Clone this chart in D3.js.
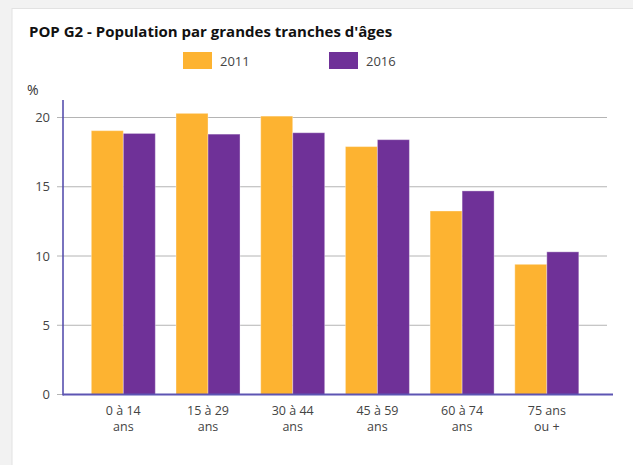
<!DOCTYPE html>
<html>
<head>
<meta charset="utf-8">
<script src="https://cdn.jsdelivr.net/npm/d3@7"></script>
<style>
  body { margin: 0; background: #f2f2f2; font-family: "Open Sans", sans-serif; }
  #chart { position: absolute; left: 0; top: 0; }
</style>
</head>
<body>
<div id="chart"></div>
<script>
// categories (two-line labels) and series
const categories = [
  ["0 à 14", "ans"],
  ["15 à 29", "ans"],
  ["30 à 44", "ans"],
  ["45 à 59", "ans"],
  ["60 à 74", "ans"],
  ["75 ans", "ou +"],
];
const seriesNames = ["2011", "2016"];
const values2011 = [19.05, 20.3, 20.1, 17.9, 13.25, 9.4];
const values2016 = [18.85, 18.8, 18.9, 18.4, 14.7, 10.3];
const yTicks = [0, 5, 10, 15, 20];

const colors = { "2011": "#fdb331", "2016": "#6f3198" };

const W = 633, H = 465;
const plot = { left: 63, right: 613, top: 100, bottom: 394.5 };

const svg = d3.select("#chart").append("svg")
  .attr("width", W).attr("height", H);

// card
svg.append("rect")
  .attr("x", 12).attr("y", 8.5).attr("width", W).attr("height", H)
  .attr("fill", "#fff")
  .attr("stroke", "#e2e2e2");

svg.append("text")
  .attr("x", 29).attr("y", 37)
  .attr("font-size", 15).attr("font-weight", 700)
  .attr("fill", "#111")
  .text("POP G2 - Population par grandes tranches d'âges");

// legend
const legend = svg.append("g");
const legendX = [183, 329];
seriesNames.forEach((name, i) => {
  legend.append("rect")
    .attr("x", legendX[i]).attr("y", 52)
    .attr("width", 29).attr("height", 17)
    .attr("fill", colors[name]);
  legend.append("text")
    .attr("x", legendX[i] + 37).attr("y", 66)
    .attr("font-size", 13).attr("fill", "#444")
    .text(name);
});

svg.append("text")
  .attr("x", 27).attr("y", 95)
  .attr("font-size", 14).attr("fill", "#333")
  .text("%");

const y = d3.scaleLinear().domain([0, 20]).range([plot.bottom, 117.5]);

const x0 = d3.scaleBand()
  .domain(d3.range(categories.length))
  .range([plot.left, plot.right])
  .paddingInner(0.2444)
  .paddingOuter(0.369)
  .align(0.453);

const x1 = d3.scaleBand()
  .domain(seriesNames)
  .range([0, x0.bandwidth()]);

// grid + y ticks
const grid = svg.append("g");
yTicks.forEach((t) => {
  grid.append("line")
    .attr("x1", 57).attr("x2", t === 0 ? plot.left : 607)
    .attr("y1", y(t)).attr("y2", y(t))
    .attr("stroke", "#b4b4b4").attr("stroke-width", 1);
  grid.append("text")
    .attr("x", 50).attr("y", y(t) + 4.5)
    .attr("text-anchor", "end")
    .attr("font-size", 13).attr("fill", "#444")
    .text(t);
});

// bars
const rows = categories.map((c, i) => ({
  i,
  vals: [
    { key: "2011", v: values2011[i] },
    { key: "2016", v: values2016[i] },
  ],
}));

svg.append("g")
  .selectAll("g")
  .data(rows)
  .join("g")
  .attr("transform", (d) => `translate(${x0(d.i)},0)`)
  .selectAll("rect")
  .data((d) => d.vals)
  .join("rect")
  .attr("x", (d) => x1(d.key))
  .attr("y", (d) => y(d.v))
  .attr("width", x1.bandwidth())
  .attr("height", (d) => plot.bottom - y(d.v))
  .attr("fill", (d) => colors[d.key])
  .attr("stroke", "rgba(255,255,255,0.35)")
  .attr("stroke-width", 1);

// axes lines
svg.append("line")
  .attr("x1", plot.left).attr("x2", plot.left)
  .attr("y1", plot.top).attr("y2", plot.bottom + 1)
  .attr("stroke", "#4d44a8").attr("stroke-width", 1.5);
svg.append("line")
  .attr("x1", plot.left).attr("x2", plot.right)
  .attr("y1", plot.bottom).attr("y2", plot.bottom)
  .attr("stroke", "#5d55b3").attr("stroke-width", 2);

// category labels
const labels = svg.append("g")
  .selectAll("text")
  .data(categories)
  .join("text")
  .attr("x", (d, i) => x0(i) + x0.bandwidth() / 2)
  .attr("y", 415)
  .attr("text-anchor", "middle")
  .attr("font-size", 12.5)
  .attr("fill", "#444");
labels.append("tspan").attr("x", (d, i) => x0(i) + x0.bandwidth() / 2).text((d) => d[0]);
labels.append("tspan").attr("x", (d, i) => x0(i) + x0.bandwidth() / 2).attr("dy", 16).text((d) => d[1]);
</script>
</body>
</html>
